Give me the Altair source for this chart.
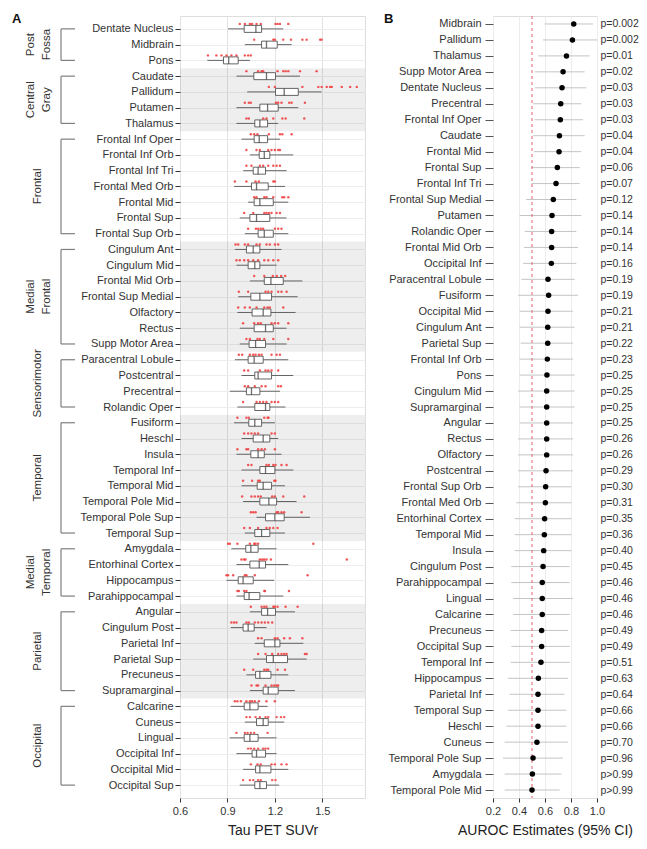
import json
import altair as alt
import pandas as pd

FONT = "Liberation Sans"

# ---------------- Panel A data ----------------
regions = [
    "Dentate Nucleus", "Midbrain", "Pons",
    "Caudate", "Pallidum", "Putamen", "Thalamus",
    "Frontal Inf Oper", "Frontal Inf Orb", "Frontal Inf Tri", "Frontal Med Orb",
    "Frontal Mid", "Frontal Sup", "Frontal Sup Orb",
    "Cingulum Ant", "Cingulum Mid", "Frontal Mid Orb", "Frontal Sup Medial",
    "Olfactory", "Rectus", "Supp Motor Area",
    "Paracentral Lobule", "Postcentral", "Precentral", "Rolandic Oper",
    "Fusiform", "Heschl", "Insula", "Temporal Inf", "Temporal Mid",
    "Temporal Pole Mid", "Temporal Pole Sup", "Temporal Sup",
    "Amygdala", "Entorhinal Cortex", "Hippocampus", "Parahippocampal",
    "Angular", "Cingulum Post", "Parietal Inf", "Parietal Sup", "Precuneus", "Supramarginal",
    "Calcarine", "Cuneus", "Lingual", "Occipital Inf", "Occipital Mid", "Occipital Sup",
]

group_labels = ["Post\nFossa", "Central\nGray", "Frontal", "Medial\nFrontal", "Sensorimotor",
                "Temporal", "Medial\nTemporal", "Parietal", "Occipital"]
group_sizes = [3, 4, 7, 7, 4, 8, 4, 6, 6]
group_shaded = [False, True, False, True, False, True, False, True, False]

whisker_lo = [0.904, 1.010, 0.773, 0.957, 1.025, 0.957, 0.957, 0.989, 1.042, 1.000, 0.942, 1.031, 0.978, 1.010,
              0.947, 0.957, 1.042, 0.968, 0.963, 0.978, 0.978, 0.947, 0.989, 0.915, 0.963,
              0.942, 0.989, 0.957, 0.989, 0.989, 0.999, 1.084, 1.010,
              0.925, 0.957, 0.894, 0.957, 1.042, 0.921, 1.073, 1.063, 1.020, 1.042,
              0.921, 1.010, 0.915, 0.957, 0.999, 0.978]
box_q1 = [1.006, 1.116, 0.875, 1.067, 1.204, 1.105, 1.073, 1.069, 1.101, 1.063, 1.052, 1.069, 1.042, 1.094,
          1.020, 1.031, 1.133, 1.048, 1.056, 1.069, 1.037, 1.031, 1.073, 1.020, 1.073,
          1.035, 1.063, 1.048, 1.105, 1.088, 1.105, 1.141, 1.073,
          1.016, 1.042, 0.968, 1.006, 1.116, 0.999, 1.133, 1.147, 1.078, 1.126,
          1.006, 1.084, 1.006, 1.056, 1.078, 1.073]
box_median = [1.080, 1.147, 0.908, 1.147, 1.259, 1.154, 1.105, 1.101, 1.133, 1.094, 1.084, 1.105, 1.084, 1.133,
              1.063, 1.073, 1.175, 1.105, 1.126, 1.141, 1.078, 1.069, 1.094, 1.052, 1.141,
              1.073, 1.126, 1.094, 1.141, 1.126, 1.162, 1.200, 1.116,
              1.048, 1.101, 0.999, 1.037, 1.154, 1.031, 1.200, 1.190, 1.105, 1.158,
              1.042, 1.126, 1.042, 1.084, 1.105, 1.105]
box_q3 = [1.116, 1.215, 0.968, 1.204, 1.348, 1.221, 1.154, 1.154, 1.168, 1.141, 1.158, 1.190, 1.168, 1.190,
          1.105, 1.105, 1.253, 1.179, 1.175, 1.190, 1.141, 1.126, 1.179, 1.105, 1.168,
          1.116, 1.168, 1.133, 1.200, 1.179, 1.211, 1.259, 1.168,
          1.094, 1.141, 1.063, 1.105, 1.204, 1.069, 1.232, 1.280, 1.175, 1.221,
          1.094, 1.158, 1.094, 1.141, 1.175, 1.147]
whisker_hi = [1.253, 1.306, 1.042, 1.359, 1.496, 1.348, 1.221, 1.232, 1.316, 1.274, 1.264, 1.285, 1.274, 1.285,
              1.242, 1.211, 1.374, 1.344, 1.331, 1.274, 1.274, 1.285, 1.316, 1.232, 1.267,
              1.200, 1.221, 1.242, 1.316, 1.264, 1.337, 1.422, 1.264,
              1.211, 1.285, 1.196, 1.253, 1.327, 1.147, 1.380, 1.401, 1.285, 1.327,
              1.154, 1.259, 1.211, 1.211, 1.285, 1.227]

red_points = [
    [0.978, 1.01, 1.042, 1.056, 1.084, 1.111, 1.204, 1.217, 1.232, 1.285],
    [1.069, 1.19, 1.2, 1.253, 1.302, 1.374, 1.401, 1.486, 1.496],
    [0.777, 0.83, 0.862, 0.894, 0.925, 0.957, 1.01, 1.031, 1.048],
    [1.02, 1.094, 1.116, 1.126, 1.217, 1.253, 1.268, 1.285, 1.359, 1.464],
    [1.162, 1.2, 1.374, 1.475, 1.496, 1.528, 1.549, 1.56, 1.623, 1.676, 1.718],
    [1.01, 1.035, 1.048, 1.207, 1.221, 1.242, 1.291, 1.306, 1.39],
    [1.02, 1.035, 1.126, 1.147, 1.19, 1.247, 1.268, 1.386],
    [1.048, 1.069, 1.09, 1.162, 1.232, 1.247, 1.306],
    [1.02, 1.084, 1.105, 1.158, 1.179, 1.2, 1.221, 1.232],
    [1.02, 1.052, 1.105, 1.126, 1.158, 1.19, 1.211, 1.232],
    [0.947, 1.02, 1.078, 1.099, 1.19, 1.2],
    [1.069, 1.084, 1.133, 1.147, 1.19, 1.247, 1.259, 1.285],
    [1.006, 1.063, 1.133, 1.147, 1.162, 1.179, 1.211, 1.232],
    [1.031, 1.08, 1.094, 1.111, 1.126, 1.2, 1.221, 1.242],
    [0.951, 0.968, 1.01, 1.031, 1.084, 1.105, 1.147, 1.168, 1.2, 1.221],
    [0.957, 0.978, 1.006, 1.031, 1.063, 1.094, 1.133, 1.158, 1.19, 1.221],
    [1.069, 1.133, 1.187, 1.212, 1.24, 1.265],
    [0.972, 1.031, 1.141, 1.158, 1.179, 1.221, 1.242, 1.274],
    [0.968, 1.01, 1.042, 1.084, 1.133, 1.154, 1.168, 1.253],
    [0.999, 1.069, 1.094, 1.111, 1.179, 1.2, 1.221, 1.285],
    [1.02, 1.042, 1.09, 1.105, 1.133, 1.19, 1.285],
    [0.972, 0.993, 1.042, 1.063, 1.078, 1.099, 1.116, 1.179, 1.211, 1.232],
    [1.006, 1.031, 1.105, 1.141, 1.158, 1.179, 1.221],
    [1.01, 1.031, 1.073, 1.116, 1.141, 1.221, 1.238],
    [0.999, 1.084, 1.105, 1.126, 1.147, 1.179, 1.2, 1.221],
    [0.963, 1.02, 1.035, 1.133, 1.154, 1.16],
    [1.006, 1.031, 1.052, 1.073, 1.094, 1.179, 1.2],
    [0.963, 1.02, 1.031, 1.094, 1.116, 1.137, 1.2],
    [1.031, 1.052, 1.147, 1.162, 1.19, 1.204, 1.242, 1.274],
    [0.999, 1.056, 1.094, 1.105, 1.196, 1.204],
    [0.993, 1.052, 1.073, 1.094, 1.111, 1.183, 1.2, 1.253, 1.386],
    [1.048, 1.063, 1.078, 1.211, 1.221, 1.242, 1.259, 1.369],
    [1.006, 1.042, 1.094, 1.147, 1.168, 1.19, 1.217],
    [0.904, 0.915, 0.963, 1.042, 1.069, 1.078, 1.094, 1.443],
    [0.989, 1.006, 1.014, 1.105, 1.12, 1.133, 1.147, 1.175, 1.655],
    [0.894, 0.904, 0.936, 1.01, 1.02, 1.073, 1.407],
    [0.963, 0.972, 1.006, 1.02, 1.133, 1.137, 1.289],
    [1.048, 1.116, 1.133, 1.147, 1.19, 1.2, 1.217, 1.268, 1.344],
    [0.925, 0.942, 0.957, 1.02, 1.035, 1.073, 1.094, 1.116, 1.137, 1.158, 1.183],
    [1.094, 1.116, 1.2, 1.217, 1.259, 1.295, 1.374],
    [1.094, 1.141, 1.183, 1.221, 1.242, 1.259, 1.274, 1.39, 1.401],
    [1.006, 1.063, 1.133, 1.147, 1.158, 1.217, 1.264],
    [1.052, 1.084, 1.094, 1.141, 1.179, 1.196, 1.211, 1.221],
    [0.947, 0.963, 0.985, 1.02, 1.042, 1.056, 1.073, 1.099, 1.147, 1.2],
    [1.02, 1.042, 1.078, 1.105, 1.141, 1.158, 1.211, 1.238, 1.259],
    [0.957, 1.01, 1.027, 1.048, 1.069, 1.154],
    [1.031, 1.048, 1.069, 1.094, 1.126, 1.141, 1.158],
    [1.048, 1.09, 1.111, 1.179, 1.2, 1.242, 1.274],
    [0.999, 1.042, 1.063, 1.094, 1.111, 1.183, 1.204],
]

x_ticks_a = [0.6, 0.9, 1.2, 1.5]

# ---------------- Panel B data ----------------
auroc_regions = [
    "Midbrain", "Pallidum", "Thalamus", "Supp Motor Area", "Dentate Nucleus", "Precentral",
    "Frontal Inf Oper", "Caudate", "Frontal Mid", "Frontal Sup", "Frontal Inf Tri",
    "Frontal Sup Medial", "Putamen", "Rolandic Oper", "Frontal Mid Orb", "Occipital Inf",
    "Paracentral Lobule", "Fusiform", "Occipital Mid", "Cingulum Ant", "Parietal Sup",
    "Frontal Inf Orb", "Pons", "Cingulum Mid", "Supramarginal", "Angular", "Rectus",
    "Olfactory", "Postcentral", "Frontal Sup Orb", "Frontal Med Orb", "Entorhinal Cortex",
    "Temporal Mid", "Insula", "Cingulum Post", "Parahippocampal", "Lingual", "Calcarine",
    "Precuneus", "Occipital Sup", "Temporal Inf", "Hippocampus", "Parietal Inf",
    "Temporal Sup", "Heschl", "Cuneus", "Temporal Pole Sup", "Amygdala", "Temporal Pole Mid",
]
auroc_est = [0.821, 0.811, 0.765, 0.739, 0.731, 0.721, 0.718, 0.711, 0.708, 0.695, 0.685,
             0.664, 0.654, 0.651, 0.651, 0.649, 0.623, 0.628, 0.623, 0.621, 0.621,
             0.618, 0.615, 0.613, 0.613, 0.613, 0.613, 0.613, 0.608, 0.605, 0.603, 0.597,
             0.595, 0.590, 0.585, 0.579, 0.579, 0.579, 0.574, 0.574, 0.569, 0.549, 0.546,
             0.546, 0.546, 0.538, 0.508, 0.503, 0.500]
auroc_lo = [0.598, 0.585, 0.547, 0.521, 0.521, 0.508, 0.521, 0.508, 0.515, 0.495, 0.495,
            0.456, 0.405, 0.444, 0.438, 0.431, 0.418, 0.392, 0.405, 0.405, 0.413,
            0.405, 0.405, 0.392, 0.405, 0.405, 0.392, 0.392, 0.392, 0.392, 0.379, 0.367,
            0.367, 0.367, 0.341, 0.341, 0.354, 0.354, 0.336, 0.341, 0.336, 0.315, 0.328,
            0.315, 0.303, 0.290, 0.277, 0.290, 0.290]
auroc_hi = [0.969, 1.000, 0.944, 0.905, 0.918, 0.879, 0.892, 0.905, 0.879, 0.867, 0.867,
            0.841, 0.879, 0.841, 0.854, 0.841, 0.828, 0.854, 0.815, 0.828, 0.815,
            0.815, 0.828, 0.828, 0.828, 0.815, 0.815, 0.815, 0.815, 0.803, 0.803, 0.803,
            0.803, 0.803, 0.790, 0.790, 0.815, 0.790, 0.777, 0.790, 0.790, 0.777, 0.751,
            0.764, 0.764, 0.777, 0.738, 0.726, 0.713]
p_labels = ["p=0.002", "p=0.002", "p=0.01", "p=0.02", "p=0.03", "p=0.03", "p=0.03", "p=0.04",
            "p=0.04", "p=0.06", "p=0.07", "p=0.12", "p=0.14", "p=0.14", "p=0.14", "p=0.16",
            "p=0.19", "p=0.19", "p=0.21", "p=0.21", "p=0.22", "p=0.23", "p=0.25", "p=0.25",
            "p=0.25", "p=0.25", "p=0.26", "p=0.26", "p=0.29", "p=0.30", "p=0.31", "p=0.35",
            "p=0.36", "p=0.40", "p=0.45", "p=0.46", "p=0.46", "p=0.46", "p=0.49", "p=0.49",
            "p=0.51", "p=0.63", "p=0.64", "p=0.66", "p=0.66", "p=0.70", "p=0.96", "p>0.99", "p>0.99"]
x_ticks_b = [0.2, 0.4, 0.6, 0.8, 1.0]

# ---------------- tables ----------------
n = len(regions)
box_df = pd.DataFrame({"region": regions, "idx": list(range(n)), "lo": whisker_lo, "q1": box_q1,
                       "med": box_median, "q3": box_q3, "hi": whisker_hi})
pts_df = pd.DataFrame([{"idx": i, "v": v} for i, vals in enumerate(red_points) for v in vals])

grp_rows = []
start = 0
for lab, size, shade in zip(group_labels, group_sizes, group_shaded):
    first, last = start, start + size - 1
    grp_rows.append({"label": lab, "first": first, "last": last, "mid": (first + last) / 2,
                     "shaded": shade, "blo": first - 0.5, "bhi": last + 0.5,
                     "two": "\n" in lab})
    start += size
grp_df = pd.DataFrame(grp_rows)
shade_df = grp_df[grp_df["shaded"]]
grp_one = grp_df[~grp_df["two"]]
grp_two = grp_df[grp_df["two"]]

m = len(auroc_regions)
au_df = pd.DataFrame({"rank": list(range(m)), "region": auroc_regions, "est": auroc_est,
                      "lo": auroc_lo, "hi": auroc_hi, "p": p_labels})


def label_expr(names):
    return "[" + ",".join(json.dumps(s) for s in names) + "][datum.value]"


TXT = "#333333"
yscale = alt.Scale(domain=[-0.5, n - 0.5], reverse=True, nice=False, zero=False)
xscale_a = alt.Scale(domain=[0.6, 1.77], nice=False, zero=False)
xscale_b = alt.Scale(domain=[0.2, 1.0], nice=False, zero=False)

y_axis_a = alt.Axis(values=list(range(n)), labelExpr=label_expr(regions), title=None, grid=True,
                    gridColor="#ededed", domain=False, tickSize=5, tickColor=TXT, labelPadding=2,
                    labelFontSize=11, labelColor=TXT, labelOverlap=False, labelFont=FONT)
x_axis_a = alt.Axis(values=x_ticks_a, format=".1f", title="Tau PET SUVr", grid=True, gridColor="#e2e2e2",
                    domain=False, tickSize=4, tickColor=TXT, labelPadding=3, labelFontSize=11,
                    labelColor=TXT, labelFlush=False, labelFont=FONT, titleFont=FONT, titleFontSize=14,
                    titleFontWeight="normal", titleColor="#222222", titlePadding=7)

XA = dict(scale=xscale_a, axis=x_axis_a)
YA = dict(scale=yscale, axis=y_axis_a)

bands = alt.Chart(shade_df).mark_rect(color="#000000", opacity=0.065).encode(
    x=alt.datum(0.6, **XA), x2=alt.datum(1.77),
    y=alt.Y("blo:Q", **YA), y2="bhi:Q")

whisk = alt.Chart(box_df).mark_rule(color="#555555", strokeWidth=0.9).encode(
    x=alt.X("lo:Q", **XA), x2="hi:Q",
    y=alt.Y("idx:Q", **YA))

boxes = alt.Chart(box_df).mark_bar(size=7, orient="horizontal", fill="white", stroke="#555555",
                                    strokeWidth=0.9).encode(
    x=alt.X("q1:Q", **XA), x2="q3:Q",
    y=alt.Y("idx:Q", **YA))

medians = alt.Chart(box_df).mark_tick(orient="vertical", size=7, thickness=1.3, color="#333333").encode(
    x=alt.X("med:Q", **XA),
    y=alt.Y("idx:Q", **YA))

dots_a = alt.Chart(pts_df).mark_circle(size=6, color="#f03a3a", opacity=0.85, yOffset=-5).encode(
    x=alt.X("v:Q", **XA),
    y=alt.Y("idx:Q", **YA))

BR = "#7f7f7f"
br_v = alt.Chart(grp_df).mark_rule(color=BR, strokeWidth=1.2).encode(
    x=alt.value(-119), y=alt.Y("first:Q", **YA), y2="last:Q")
br_t = alt.Chart(grp_df).mark_rule(color=BR, strokeWidth=1.2).encode(
    x=alt.value(-119), x2=alt.value(-105), y=alt.Y("first:Q", **YA))
br_b = alt.Chart(grp_df).mark_rule(color=BR, strokeWidth=1.2).encode(
    x=alt.value(-119), x2=alt.value(-105), y=alt.Y("last:Q", **YA))
grp_txt1 = alt.Chart(grp_one).mark_text(angle=270, align="center", baseline="middle",
                                         fontSize=11.5, color=TXT, font=FONT).encode(
    x=alt.value(-142), y=alt.Y("mid:Q", **YA), text="label:N")
grp_txt2 = alt.Chart(grp_two).mark_text(angle=270, align="center", baseline="middle", lineBreak="\n",
                                         lineHeight=16, dy=-7, fontSize=11.5, color=TXT, font=FONT).encode(
    x=alt.value(-142), y=alt.Y("mid:Q", **YA), text="label:N")

lab_a = alt.Chart(pd.DataFrame({"t": ["A"]})).mark_text(
    align="left", baseline="top", fontSize=13, fontWeight="bold", color="#111111", font=FONT).encode(
    x=alt.value(-168), y=alt.value(-3), text="t:N")

left = alt.layer(bands, whisk, boxes, medians, dots_a, br_v, br_t, br_b, grp_txt1, grp_txt2,
                 lab_a).properties(width=185, height=782)

# ---------------- Panel B ----------------
y_axis_b = alt.Axis(values=list(range(m)), labelExpr=label_expr(auroc_regions), title=None, grid=False,
                    domain=False, tickSize=8, tickColor="#555555", labelPadding=4, labelFontSize=11,
                    labelColor=TXT, labelOverlap=False, labelFont=FONT)
y_axis_p = alt.Axis(orient="right", values=list(range(m)), labelExpr=label_expr(p_labels), title=None,
                    grid=False, domain=False, ticks=False, labelPadding=3, labelFontSize=10.5,
                    labelColor=TXT, labelOverlap=False, labelAlign="left", labelFont=FONT)
x_axis_b = alt.Axis(values=x_ticks_b, format=".1f", title="AUROC Estimates (95% CI)", grid=True,
                    gridColor="#ececec", domain=False, tickSize=4, tickColor=TXT, labelPadding=3,
                    labelFontSize=11, labelColor=TXT, labelFlush=False, labelFont=FONT, titleFont=FONT,
                    titleFontSize=14, titleFontWeight="normal", titleColor="#222222", titlePadding=7)
XB = dict(scale=xscale_b, axis=x_axis_b)

ci = alt.Chart(au_df).mark_rule(color="#c4c4c4", strokeWidth=1).encode(
    x=alt.X("lo:Q", **XB), x2="hi:Q",
    y=alt.Y("rank:Q", scale=yscale, axis=y_axis_b))
ref = alt.Chart(pd.DataFrame({"r": [0.5]})).mark_rule(color="#e2606c", strokeDash=[3, 3], strokeWidth=1).encode(
    x=alt.X("r:Q", **XB))
est = alt.Chart(au_df).mark_circle(size=30, color="black", opacity=1).encode(
    x=alt.X("est:Q", **XB),
    y=alt.Y("rank:Q", scale=yscale, axis=None))
paxis = alt.Chart(au_df).mark_circle(size=1, opacity=0).encode(
    x=alt.X("est:Q", **XB),
    y=alt.Y("rank:Q", scale=yscale, axis=y_axis_p))
lab_b = alt.Chart(pd.DataFrame({"t": ["B"]})).mark_text(
    align="left", baseline="top", fontSize=13, fontWeight="bold", color="#111111", font=FONT).encode(
    x=alt.value(-109), y=alt.value(-3), text="t:N")

right = alt.layer(ci, ref, est, paxis, lab_b).resolve_axis(y="independent").properties(
    width=104, height=782)

# svg kept to 631 px wide (the body width) so the browser never shrinks it
chart = alt.hconcat(left, right, spacing=128, bounds="flush").properties(
    autosize=alt.AutoSizeParams(type="none"),
    padding={"left": 172, "top": 8, "right": 459, "bottom": 825},
).configure_view(stroke="#8f8f8f", strokeWidth=1).configure(font=FONT)

chart.save("out.html", embed_options={"renderer": "svg", "actions": False})
